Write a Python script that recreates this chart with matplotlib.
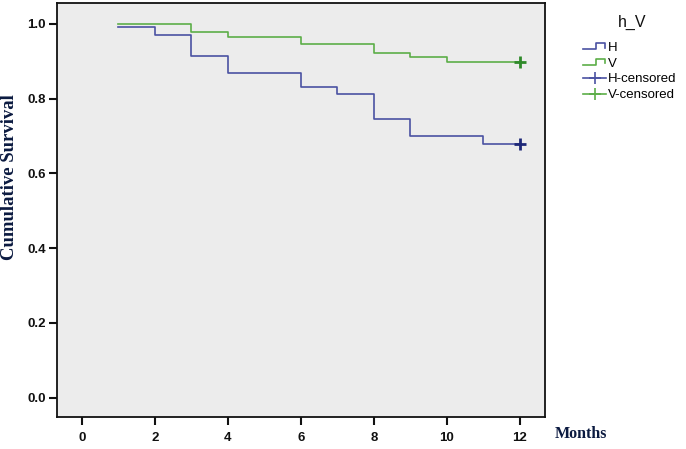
import matplotlib
matplotlib.use("Agg")
import matplotlib.pyplot as plt
from matplotlib.lines import Line2D
from matplotlib.legend_handler import HandlerBase

# ---- data ----
h_times = [1, 2, 3, 4, 6, 7, 8, 9, 11, 12]
h_surv = [0.991, 0.971, 0.915, 0.870, 0.830, 0.812, 0.746, 0.699, 0.680, 0.680]
v_times = [1, 3, 4, 6, 8, 9, 10, 12]
v_surv = [1.0, 0.978, 0.966, 0.946, 0.922, 0.911, 0.899, 0.899]
h_cens_t = [12]
h_cens_s = [0.680]
v_cens_t = [12]
v_cens_s = [0.899]
x_ticks = [0, 2, 4, 6, 8, 10, 12]
y_ticks = [0.0, 0.2, 0.4, 0.6, 0.8, 1.0]
legend_labels = ["H", "V", "H-censored", "V-censored"]

BLUE = "#4a52a2"
GREEN = "#5cae48"
BLUE_D = "#1e2878"
GREEN_D = "#2f8a2a"

fig = plt.figure(figsize=(6.86, 4.49), dpi=100)
ax = fig.add_axes([0.0831, 0.0719, 0.7114, 0.9214])
ax.set_facecolor("#ececec")

ax.step(h_times, h_surv, where="post", color=BLUE, lw=1.2)
ax.step(v_times, v_surv, where="post", color=GREEN, lw=1.2)
ax.plot(h_cens_t, h_cens_s, linestyle="none", marker="+", ms=8, mew=2, color=BLUE_D)
ax.plot(v_cens_t, v_cens_s, linestyle="none", marker="+", ms=8, mew=2, color=GREEN_D)

ax.set_xlim(-0.68, 12.69)
ax.set_ylim(-0.051, 1.056)
ax.set_xticks(x_ticks)
ax.set_yticks(y_ticks)
ax.set_xticklabels([str(t) for t in x_ticks])
ax.set_yticklabels([f"{t:.1f}" for t in y_ticks])
for sp in ax.spines.values():
    sp.set_linewidth(1.3)
    sp.set_color("#111111")
ax.tick_params(axis="both", direction="out", length=6, width=1.5, colors="#111111",
               labelsize=9.5)
ax.tick_params(axis="x", pad=5)
ax.tick_params(axis="y", pad=2)
for lab in ax.get_xticklabels() + ax.get_yticklabels():
    lab.set_fontfamily("Liberation Sans")
    lab.set_fontweight("bold")

fig.text(0.0145, 0.606, "Cumulative Survival", rotation=90, fontfamily="Liberation Serif",
         fontweight="bold", fontsize=13.5, color="#0b1a40", ha="center", va="center")
fig.text(0.808, 0.025, "Months", fontfamily="Liberation Serif", fontweight="bold",
         fontsize=11.5, color="#0b1a40", ha="left", va="baseline")

# legend title
fig.text(632 / 686, 1 - 22 / 449, "h_V", fontfamily="Liberation Sans", fontsize=11.5,
         ha="center", va="center", color="#111111")


class StepHandler(HandlerBase):
    def create_artists(self, legend, orig_handle, xdescent, ydescent, width, height,
                       fontsize, trans):
        x0 = -xdescent
        y0 = -ydescent
        xs = [x0, x0 + 0.55 * width, x0 + 0.55 * width, x0 + 0.92 * width, x0 + 0.92 * width]
        ys = [y0 + 0.2 * height, y0 + 0.2 * height, y0 + 0.8 * height, y0 + 0.8 * height,
              y0 + 0.35 * height]
        ln = Line2D(xs, ys, color=orig_handle.get_color(), lw=1.2, transform=trans)
        return [ln]


h_step = Line2D([], [], color=BLUE)
v_step = Line2D([], [], color=GREEN)
h_c = Line2D([], [], color=BLUE, lw=1.2, marker="+", ms=8, mew=1.2, markeredgecolor=BLUE)
v_c = Line2D([], [], color=GREEN, lw=1.2, marker="+", ms=8, mew=1.2, markeredgecolor=GREEN)

leg = fig.legend([h_step, v_step, h_c, v_c], legend_labels,
                 handler_map={h_step: StepHandler(), v_step: StepHandler()},
                 loc="upper left", bbox_to_anchor=(0.836, 0.928), frameon=False,
                 prop={"family": "Liberation Sans", "size": 9.5},
                 handlelength=1.8, handletextpad=0.1, labelspacing=0.27,
                 borderpad=0.2, markerfirst=True)

fig.savefig("out.png", dpi=100)
